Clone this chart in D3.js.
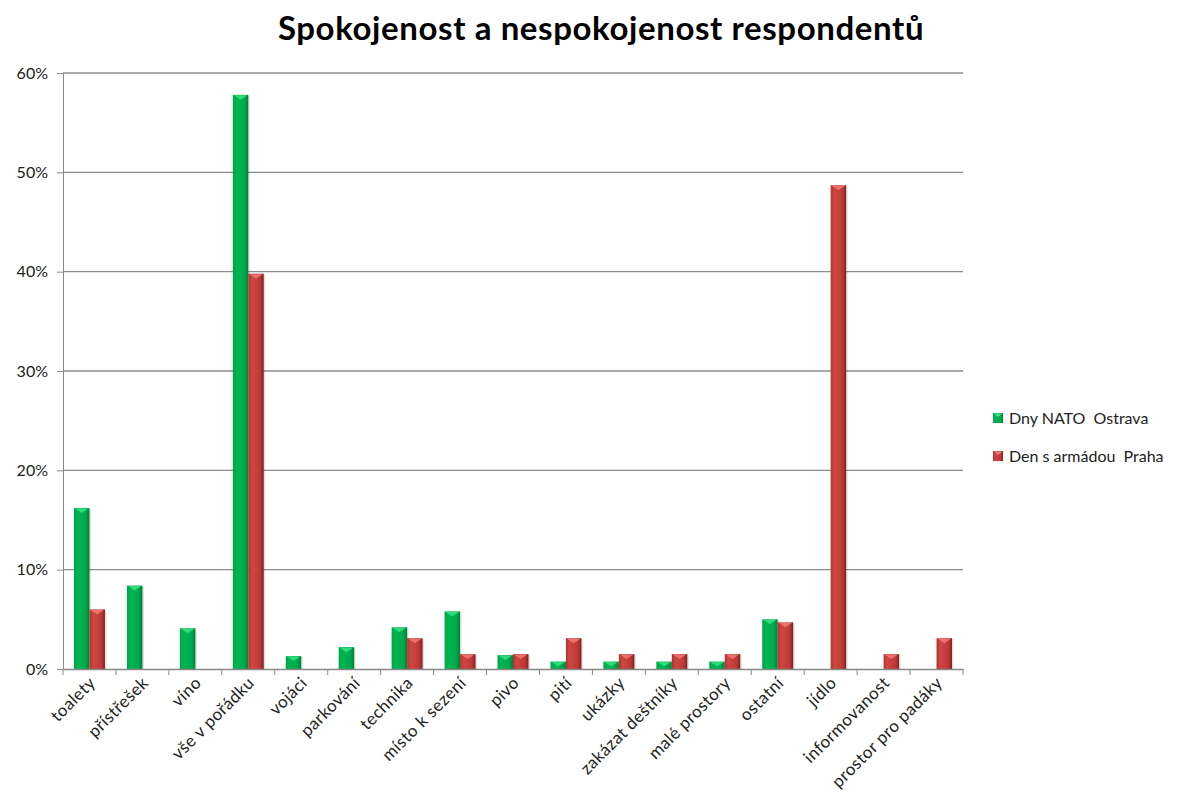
<!DOCTYPE html>
<html>
<head>
<meta charset="utf-8">
<script src="https://cdn.jsdelivr.net/npm/d3@7"></script>
<style>
  body { margin: 0; background: #fff; }
  svg text { font-family: Lato, "Open Sans", sans-serif; fill: #222; }
</style>
</head>
<body>
<svg id="chart" width="1189" height="809"></svg>
<script>
// data
var categories = ['toalety', 'přístřešek', 'víno', 'vše v pořádku', 'vojáci', 'parkování', 'technika',
  'místo k sezení', 'pivo', 'pití', 'ukázky', 'zakázat deštníky', 'malé prostory', 'ostatní',
  'jídlo', 'informovanost', 'prostor pro padáky'];
var seriesNames = ['Dny NATO  Ostrava', 'Den s armádou  Praha'];
var ostrava = [16.2, 8.4, 4.1, 57.8, 1.3, 2.2, 4.2, 5.8, 1.4, 0.75, 0.75, 0.75, 0.75, 5.0, 0, 0, 0];
var praha   = [6.0, 0, 0, 39.8, 0, 0, 3.1, 1.5, 1.5, 3.1, 1.5, 1.5, 1.5, 4.7, 48.7, 1.5, 3.1];
var yTicks = [0, 10, 20, 30, 40, 50, 60];

var svg = d3.select('#chart');
var plotL = 63, plotR = 963, plotT = 73, plotB = 669;

var x = d3.scaleBand().domain(categories).range([plotL, plotR]).paddingInner(0).paddingOuter(0);
var x1 = d3.scaleBand().domain([0, 1]).range([0, x.bandwidth()]).paddingInner(0).paddingOuter(0.71);
var y = d3.scaleLinear().domain([0, 60]).range([plotB, plotT]);

// gradients for the bevelled bars
var defs = svg.append('defs');
var palettes = [
  { id: 'gGreen', stops: ['#00a548', '#00b552', '#00a94c', '#007f36'], bevel: '#35e37f' },
  { id: 'gRed', stops: ['#b53330', '#cf4541', '#bd3a37', '#842220'], bevel: '#f07a76' }
];
palettes.forEach(function(p){
  var g = defs.append('linearGradient').attr('id', p.id).attr('x1', 0).attr('x2', 1).attr('y1', 0).attr('y2', 0);
  g.append('stop').attr('offset', '0%').attr('stop-color', p.stops[0]);
  g.append('stop').attr('offset', '25%').attr('stop-color', p.stops[1]);
  g.append('stop').attr('offset', '75%').attr('stop-color', p.stops[2]);
  g.append('stop').attr('offset', '100%').attr('stop-color', p.stops[3]);
});

// title
svg.append('text').attr('x', 601).attr('y', 40).attr('text-anchor', 'middle')
  .style('font-size', '33px').style('font-weight', 'bold').style('fill', '#000').style('letter-spacing', '0.6px')
  .text('Spokojenost a nespokojenost respondentů');

// gridlines + y axis
var yAxis = d3.axisLeft(y).tickValues(yTicks).tickSize(6).tickFormat(function(d){ return d + '%'; });
var gy = svg.append('g').attr('transform', 'translate(' + plotL + ',0)').call(yAxis);
gy.select('.domain').attr('stroke', '#888');
gy.selectAll('.tick line').attr('stroke', '#888');
gy.selectAll('.tick text').attr('x', -15).style('font-size', '16px').style('fill', '#222')
  .style('font-family', 'Lato, sans-serif');

svg.append('g').selectAll('line').data(yTicks.filter(function(d){ return d > 0; })).enter().append('line')
  .attr('x1', plotL).attr('x2', plotR).attr('y1', function(d){ return y(d); }).attr('y2', function(d){ return y(d); })
  .attr('stroke', '#8c8c8c').attr('stroke-width', 1.3);

// bars
var seriesData = [ostrava, praha];
seriesData.forEach(function(vals, s){
  var p = palettes[s];
  var g = svg.append('g');
  categories.forEach(function(c, i){
    var v = vals[i];
    if(!v) return;
    var bx = x(c) + x1(s), bw = x1.bandwidth(), by = y(v), bh = y(0) - y(v);
    // soft shadow
    g.append('rect').attr('x', bx + 1.5).attr('y', by + 1).attr('width', bw).attr('height', bh - 1)
      .attr('fill', '#000').attr('opacity', 0.12);
    g.append('rect').attr('x', bx).attr('y', by).attr('width', bw).attr('height', bh)
      .attr('fill', 'url(#' + p.id + ')');
    var bev = Math.min(5, bh);
    g.append('path')
      .attr('d', 'M' + (bx + 1) + ',' + (by + 0.5) + 'L' + (bx + bw - 1) + ',' + (by + 0.5) +
        'L' + (bx + bw / 2) + ',' + (by + bev) + 'Z')
      .attr('fill', p.bevel).attr('opacity', 0.85);
  });
});

// x axis
var xAxis = d3.axisBottom(x).tickSize(0).tickFormat('');
var gx = svg.append('g').attr('transform', 'translate(0,' + plotB + ')').call(xAxis);
gx.select('.domain').attr('stroke', '#888').attr('stroke-width', 1.3);
svg.append('g').selectAll('line').data(d3.range(categories.length + 1)).enter().append('line')
  .attr('x1', function(d){ return plotL + d * x.step(); }).attr('x2', function(d){ return plotL + d * x.step(); })
  .attr('y1', plotB).attr('y2', plotB + 6).attr('stroke', '#888');

svg.append('g').selectAll('text').data(categories).enter().append('text')
  .attr('transform', function(d){ return 'translate(' + (x(d) + x.bandwidth() / 2 + 7) + ',' + (plotB + 15) + ') rotate(-45)'; })
  .attr('text-anchor', 'end').style('font-size', '17px').style('letter-spacing', '0.4px')
  .text(function(d){ return d; });

// legend
var legend = svg.append('g').attr('transform', 'translate(993,418)');
seriesNames.forEach(function(n, i){
  var row = legend.append('g').attr('transform', 'translate(0,' + (i * 38) + ')');
  row.append('rect').attr('x', 0).attr('y', -5).attr('width', 10).attr('height', 10)
    .attr('fill', 'url(#' + palettes[i].id + ')');
  row.append('path').attr('d', 'M0.5,-4.5L9.5,-4.5L5,-1Z').attr('fill', palettes[i].bevel);
  row.append('text').attr('x', 16).attr('y', 6).style('font-size', '16px')
    .attr('xml:space', 'preserve').text(n);
});
</script>
</body>
</html>
